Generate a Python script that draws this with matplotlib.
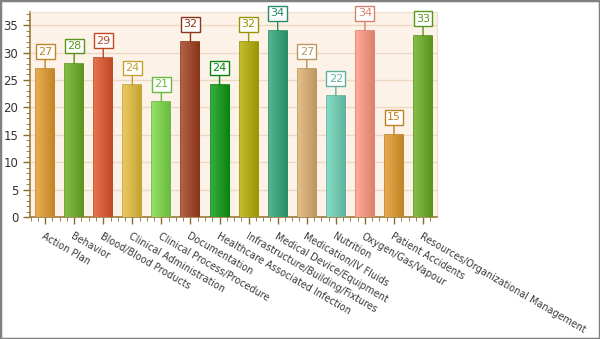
import numpy as np
import matplotlib.pyplot as plt
from matplotlib.colors import to_rgb
from matplotlib.ticker import MultipleLocator, AutoMinorLocator

# data
categories = ['Action Plan', 'Behavior', 'Blood/Blood Products', 'Clinical Administration',
              'Clinical Process/Procedure', 'Documentation', 'Healthcare Associated Infection',
              'Infrastructure/Building/Fixtures', 'Medical Device/Equipment', 'Medication/IV Fluids',
              'Nutrition', 'Oxygen/Gas/Vapour', 'Patient Accidents', 'Resources/Organizational Management']
counts = [27, 28, 29, 24, 21, 32, 24, 32, 34, 27, 22, 34, 15, 33]
colors = ['#E39B2C', '#6AAE22', '#E05528', '#E5BE3C', '#7CDB46', '#A23E1E', '#0A9A12',
          '#B6AE02', '#2FA577', '#DDB070', '#6ED2B8', '#FF9780', '#E0982A', '#6AAE20']

plt.rcParams['font.family'] = ['DejaVu Sans']

fig = plt.figure(figsize=(6, 3.39), dpi=100)
fig.patch.set_facecolor('white')
ax = fig.add_axes([30 / 600, 1 - 217 / 339, 407 / 600, 205 / 339])
ax.set_facecolor('#FDF2E8')

x = np.arange(len(categories))
bars = ax.bar(x, counts, width=0.62, color=colors, zorder=3)

# horizontal gradient inside each bar (lighter left, darker right)
for b, c in zip(bars, colors):
    rgb = np.array(to_rgb(c))
    grad = np.linspace(0, 1, 64)
    light = rgb + (1 - rgb) * 0.18
    dark = rgb * 0.85
    img = light[None, :] * (1 - grad[:, None]) + dark[None, :] * grad[:, None]
    img = img[None, :, :]
    bx, bw, bh = b.get_x(), b.get_width(), b.get_height()
    im = ax.imshow(img, extent=[bx, bx + bw, 0, bh], aspect='auto', zorder=3.5,
                   interpolation='bilinear')
    im.set_clip_path(b)
    b.set_edgecolor(tuple(rgb * 0.85))
    b.set_linewidth(1.2)

# value boxes above the bars (a bit darker than the bar)
for i, (v, c) in enumerate(zip(counts, colors)):
    lc = tuple(np.array(to_rgb(c)) * 0.85)
    ax.annotate(str(v), xy=(i, v), xytext=(0, 9), textcoords='offset points',
                ha='center', va='bottom', fontsize=8, color=lc, zorder=5,
                bbox=dict(boxstyle='square,pad=0.22', fc='white', ec=lc, lw=1),
                arrowprops=dict(arrowstyle='-', color=lc, lw=1, shrinkA=0, shrinkB=0))

ax.set_xlim(-0.52, len(categories) - 0.52)
ax.set_ylim(0, 37.4)
ax.yaxis.set_major_locator(MultipleLocator(5))
ax.yaxis.set_minor_locator(MultipleLocator(1))
ax.xaxis.set_minor_locator(AutoMinorLocator(4))
ax.grid(axis='y', color='#EDD8C2', lw=1, zorder=1)
ax.set_axisbelow(True)

ax.set_xticks(x)
ax.set_xticklabels(categories, rotation=-30, ha='left', va='top', rotation_mode='anchor',
                   fontsize=6.9, color='#3A3A3A')
ax.tick_params(axis='y', labelsize=8.5, colors='#8C6A2A', labelcolor='#333333', length=5, width=1)
ax.tick_params(axis='y', which='minor', length=3, colors='#8C6A2A')
ax.tick_params(axis='x', colors='#8C6A2A', labelcolor='#3A3A3A', length=5, width=1, pad=5)
ax.tick_params(axis='x', which='minor', length=3, colors='#8C6A2A')

for s in ['top', 'right']:
    ax.spines[s].set_color('#F0DCC8')
for s in ['left', 'bottom']:
    ax.spines[s].set_color('#9C7A3C')
    ax.spines[s].set_linewidth(1.2)

# gray frame around the image
fig.add_artist(plt.Rectangle((0, 0), 1, 1, transform=fig.transFigure, fill=False,
                             ec='#808080', lw=2.5))

plt.savefig('out.png', dpi=100)
